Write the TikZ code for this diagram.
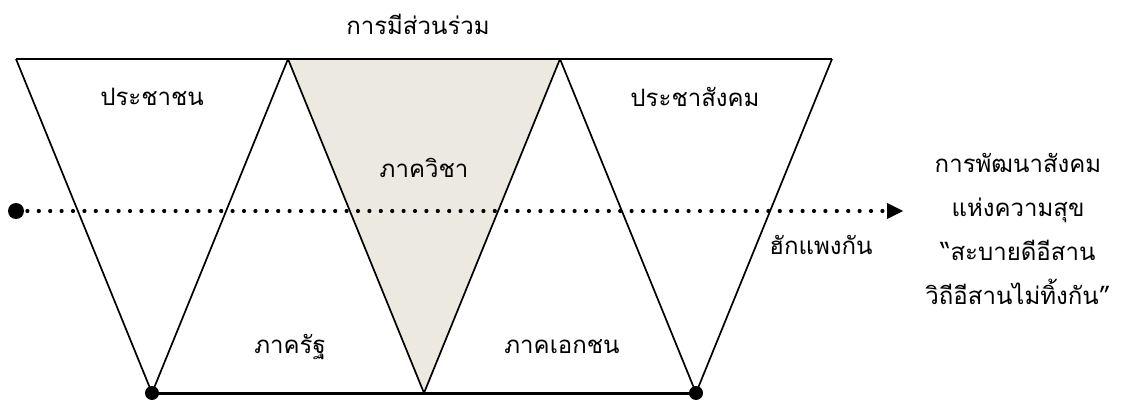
\documentclass[tikz,border=0pt]{standalone}
\usepackage{fontspec}
\newfontfamily\thaifont[Script=Thai]{Loma}
\usetikzlibrary{arrows.meta}
\definecolor{academiafill}{HTML}{ECEAE0}
\tikzset{
  lbl/.style={font=\thaifont\fontsize{24}{28}\selectfont, inner sep=0pt},
  edge/.style={line width=1.7pt, line join=round},
  dotline/.style={line width=4.2pt, line cap=round, dash pattern=on 0pt off 11.4pt},
  bigdot/.style={circle, fill=black, inner sep=0pt, minimum size=#1}
}
\begin{document}
\begin{tikzpicture}[x=1pt,y=-1pt]
\useasboundingbox (0,0) rectangle (1133,403);
% vertices
\coordinate (t1) at (16,59);
\coordinate (t2) at (288,59);
\coordinate (t3) at (560,59);
\coordinate (t4) at (832,59);
\coordinate (b1) at (152,393);
\coordinate (b2) at (424,393);
\coordinate (b3) at (696,393);
% shaded middle triangle
\fill[academiafill] (t2) -- (t3) -- (b2) -- cycle;
% top and bottom lines
\draw[line width=2pt] (t1) -- (t4);
\draw[line width=3pt] (b1) -- (b3);
% zigzag
\draw[edge] (t1) -- (b1) -- (t2) -- (b2) -- (t3) -- (b3) -- (t4);
% dotted arrow
\coordinate (as) at (16,211);
\coordinate (ae) at (887,211);
\coordinate (atip) at (903,211);
\draw[dotline] (as) -- (ae);
\fill (ae) ++(0,-8) -- (atip) -- ++(-16,8) -- cycle;
\node[bigdot=16pt] (sd) at (as) {};
\node[bigdot=14pt] (bd1) at (b1) {};
\node[bigdot=14pt] (bd3) at (b3) {};
% labels
\node[lbl] (title) at (418,24) {การมีส่วนร่วม};
\node[lbl] (p1) at (152,97) {ประชาชน};
\node[lbl] (p2) at (424,168) {ภาควิชา};
\node[lbl] (p3) at (695,97) {ประชาสังคม};
\node[lbl] (p4) at (290,347) {ภาครัฐ};
\node[lbl] (p5) at (562,347) {ภาคเอกชน};
\node[lbl] (p6) at (821,245) {ฮักแพงกัน};
\node[lbl, align=center, font=\thaifont\fontsize{24}{44}\selectfont] (goal) at (1018,229) {การพัฒนาสังคม\\แห่งความสุข\\“สะบายดีอีสาน\\วิถีอีสานไม่ทิ้งกัน”};
\end{tikzpicture}
\end{document}
